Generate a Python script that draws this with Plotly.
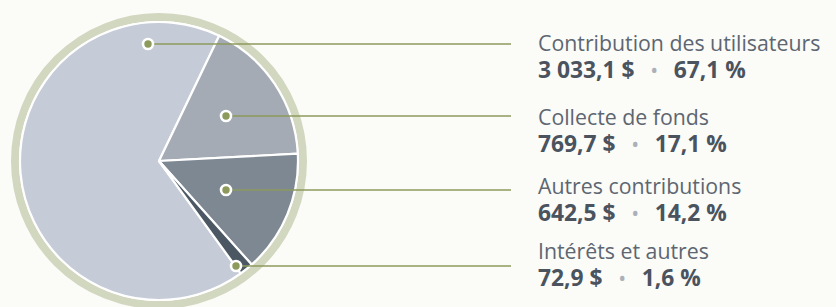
import plotly.graph_objects as go

# ---- data ----
categories = ["Contribution des utilisateurs", "Collecte de fonds",
              "Autres contributions", "Intérêts et autres"]
amounts = [3033.1, 769.7, 642.5, 72.9]          # M$
percents = [67.1, 17.1, 14.2, 1.6]

# ---- style ----
W, H = 836, 307
slice_colors = ["#c5cbd7", "#a4abb5", "#7e8893", "#4b5864"]
ring_color = "#d2d7bf"
leader_color = "#8c9a5c"
label_color = "#5d6671"
value_color = "#4a535e"
bullet_color = "#aab1b8"
bg = "#fbfbf8"
FONT = "Open Sans"

cx, cy, r_pie = 159, 161, 139      # pixel geometry of pie
ring_r, ring_w = 144, 8

# leader anchors (dot x,y) and text block positions
dots = [(148, 44), (226, 116), (226, 190), (236, 266)]
line_end_x = 511
text_x = 536
block_y = [56, 130, 199, 264]


def fr(num, dec=1):
    s = f"{num:,.{dec}f}"
    return s.replace(",", " ").replace(".", ",")


fig = go.Figure()

fig.add_trace(go.Pie(
    values=amounts, labels=categories, sort=False, direction="clockwise",
    rotation=144, textinfo="none", hoverinfo="label+value",
    marker=dict(colors=slice_colors, line=dict(color="white", width=2.2)),
    showlegend=False,
    domain=dict(x=[(cx - r_pie) / W, (cx + r_pie) / W],
                y=[1 - (cy + r_pie) / H, 1 - (cy - r_pie) / H]),
))

shapes = [dict(type="circle", xref="x", yref="y", layer="below",
               x0=cx - ring_r, x1=cx + ring_r, y0=cy - ring_r, y1=cy + ring_r,
               line=dict(color=ring_color, width=ring_w), fillcolor="white")]
for (dx, dy) in dots:
    shapes.append(dict(type="line", xref="x", yref="y", layer="above",
                       x0=dx, x1=line_end_x, y0=dy, y1=dy,
                       line=dict(color=leader_color, width=1.6)))
for (dx, dy) in dots:
    shapes.append(dict(type="circle", xref="x", yref="y", layer="above",
                       x0=dx - 5, x1=dx + 5, y0=dy - 5, y1=dy + 5,
                       fillcolor=leader_color, line=dict(color="white", width=2.6)))
fig.update_layout(shapes=shapes)

annotations = []
nb = "\u00a0"
gap = f"<span style='font-size:20px'>{nb*3}</span>"
for cat, amt, pct, by in zip(categories, amounts, percents, block_y):
    line1 = f"<span style='font-size:21.3px;color:{label_color}'>{cat}</span>"
    line2 = (f"<span style='font-size:22.8px'><b>{fr(amt)}{nb}$</b></span>{gap}"
             f"<span style='font-size:21px;color:{bullet_color}'>•</span>{gap}"
             f"<span style='font-size:22.8px'><b>{fr(pct)}{nb}%</b></span>")
    annotations.append(dict(x=text_x, y=by, xref="x", yref="y",
                            text=line1 + "<br>" + line2, align="left",
                            showarrow=False, xanchor="left", yanchor="middle",
                            font=dict(family=FONT, size=21, color=value_color)))

fig.update_layout(
    width=W, height=H, margin=dict(l=0, r=0, t=0, b=0),
    paper_bgcolor=bg, plot_bgcolor="rgba(0,0,0,0)",
    xaxis=dict(range=[0, W], visible=False, fixedrange=True, domain=[0, 1]),
    yaxis=dict(range=[H, 0], visible=False, fixedrange=True, domain=[0, 1]),
    annotations=annotations,
)

fig.write_html("out.html", post_script="document.body.style.margin='0';",
               config={"displayModeBar": False})
